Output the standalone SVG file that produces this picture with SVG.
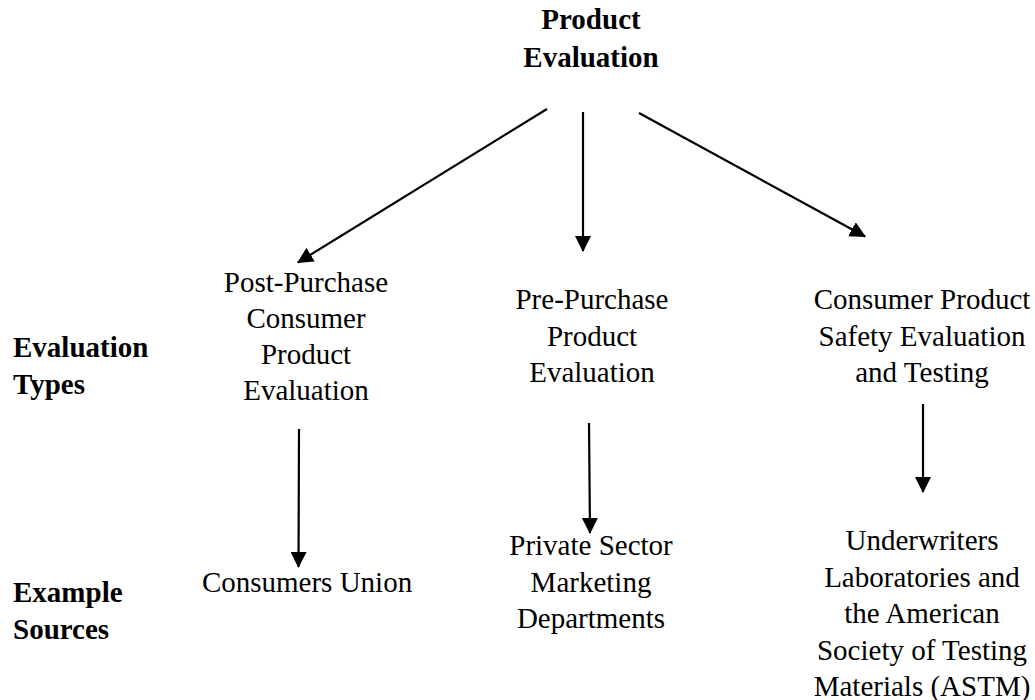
<svg xmlns="http://www.w3.org/2000/svg" width="1035" height="700" viewBox="0 0 1035 700">
  <style>
    text { font-family: "Liberation Serif", "Times New Roman", serif; font-size: 29px; fill: #000; }
    .b { font-weight: bold; }
    .c { text-anchor: middle; }
    .arrow { stroke: #000; stroke-width: 2.2; fill: none; marker-end: url(#head); }
  </style>
  <defs>
    <marker id="head" markerUnits="userSpaceOnUse" viewBox="0 0 16 16" markerWidth="16" markerHeight="16" refX="15" refY="8" orient="auto">
      <path d="M0,0 L16,8 L0,16 z" fill="#000"/>
    </marker>
  </defs>
  <rect width="1035" height="700" fill="#fff"/>

  <!-- root -->
  <g id="product-evaluation">
    <text class="b c" x="591" y="29">Product</text>
    <text class="b c" x="591" y="67">Evaluation</text>
  </g>

  <!-- row labels -->
  <g id="label-types">
    <text class="b" x="13" y="357">Evaluation</text>
    <text class="b" x="13" y="394">Types</text>
  </g>
  <g id="label-sources">
    <text class="b" x="13" y="602">Example</text>
    <text class="b" x="13" y="639">Sources</text>
  </g>

  <!-- evaluation types -->
  <g id="post-purchase">
    <text class="c" x="306" y="292">Post-Purchase</text>
    <text class="c" x="306" y="328">Consumer</text>
    <text class="c" x="306" y="364">Product</text>
    <text class="c" x="306" y="400">Evaluation</text>
  </g>
  <g id="pre-purchase">
    <text class="c" x="592" y="309">Pre-Purchase</text>
    <text class="c" x="592" y="345.5">Product</text>
    <text class="c" x="592" y="382">Evaluation</text>
  </g>
  <g id="safety-testing">
    <text class="c" x="922" y="309">Consumer Product</text>
    <text class="c" x="922" y="345.5">Safety Evaluation</text>
    <text class="c" x="922" y="382">and Testing</text>
  </g>

  <!-- example sources -->
  <g id="consumers-union">
    <text class="c" x="307" y="592">Consumers Union</text>
  </g>
  <g id="marketing-departments">
    <text class="c" x="591" y="555">Private Sector</text>
    <text class="c" x="591" y="591.5">Marketing</text>
    <text class="c" x="591" y="628">Departments</text>
  </g>
  <g id="ul-astm">
    <text class="c" x="922" y="550">Underwriters</text>
    <text class="c" x="922" y="586.5">Laboratories and</text>
    <text class="c" x="922" y="623">the American</text>
    <text class="c" x="922" y="659.5">Society of Testing</text>
    <text class="c" x="922" y="696">Materials (ASTM)</text>
  </g>

  <!-- connectors -->
  <g id="connectors">
    <line class="arrow" x1="547" y1="109" x2="297.9" y2="262.5"/>
    <line class="arrow" x1="583" y1="112" x2="583" y2="251"/>
    <line class="arrow" x1="639" y1="113" x2="865.1" y2="236.5"/>
    <line class="arrow" x1="299" y1="429" x2="298.5" y2="567"/>
    <line class="arrow" x1="589" y1="423" x2="590" y2="533"/>
    <line class="arrow" x1="923" y1="404" x2="923" y2="492"/>
  </g>
</svg>
